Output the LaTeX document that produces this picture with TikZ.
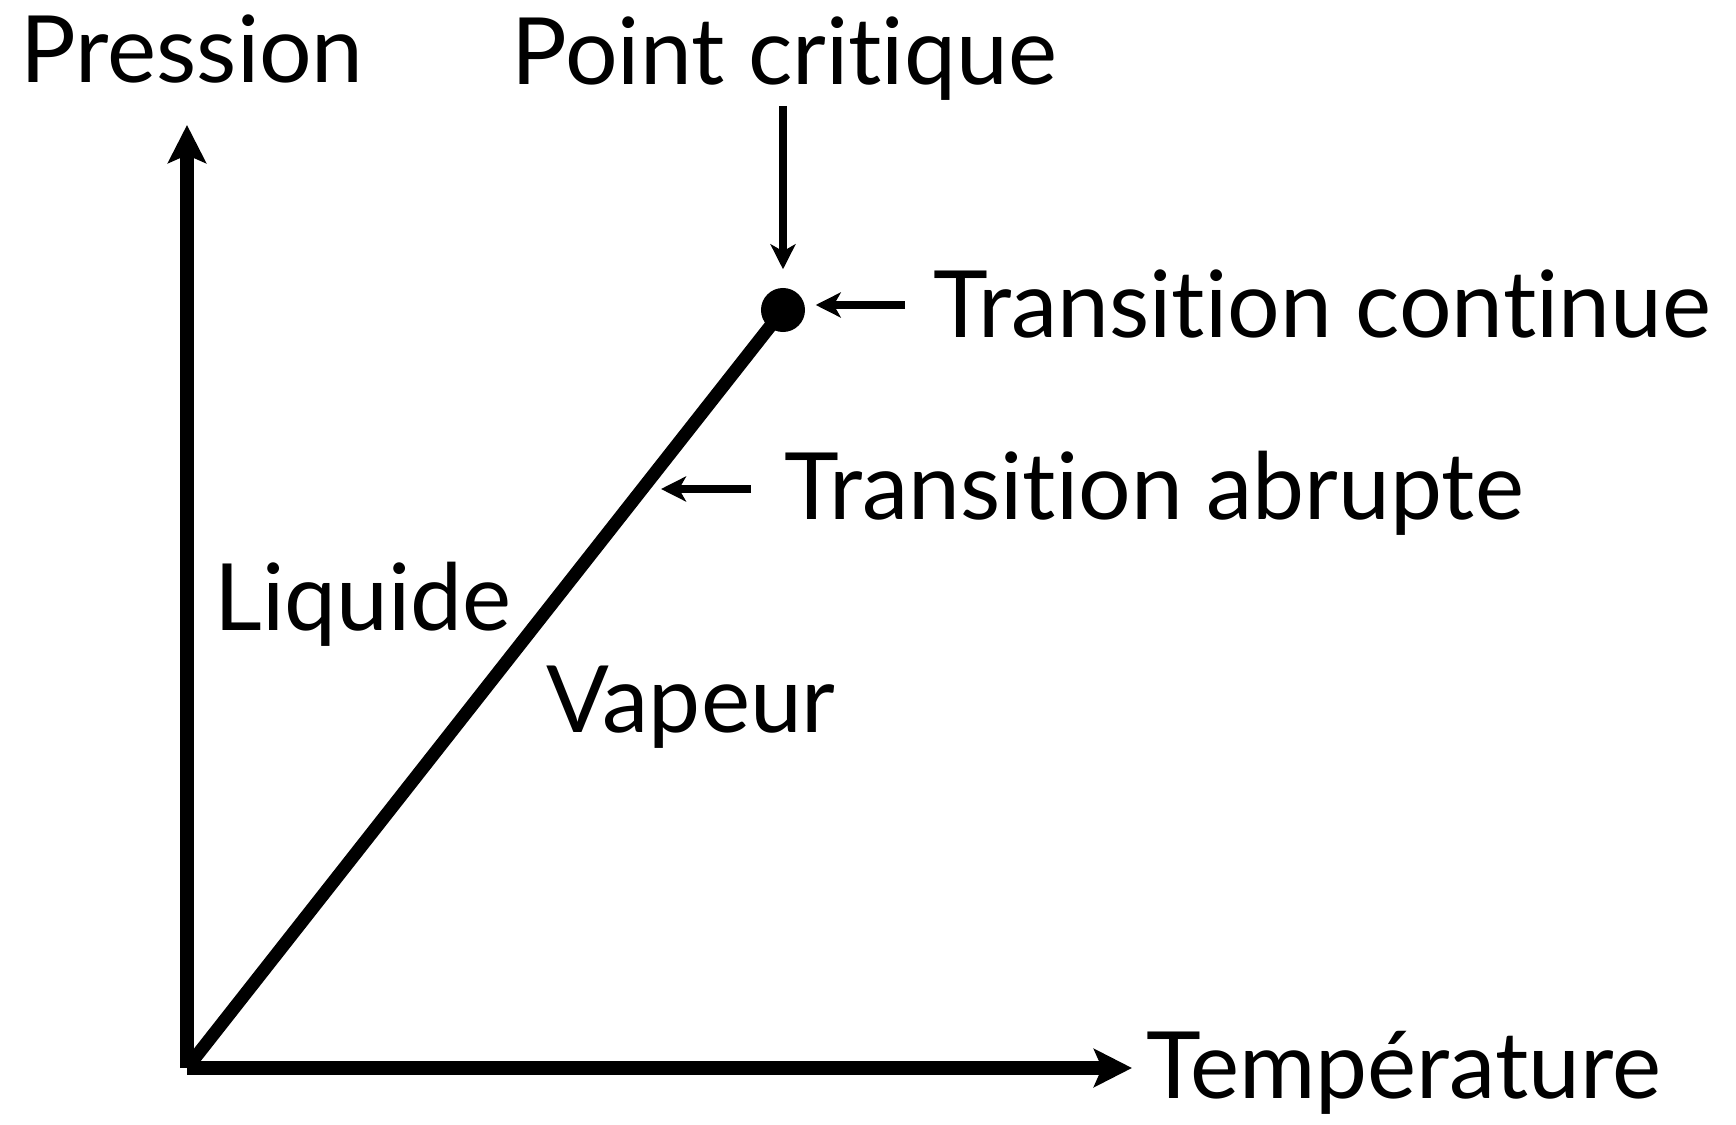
\documentclass[tikz,border=0pt]{standalone}
\usepackage{fontspec}
\setmainfont[Ligatures=NoCommon]{Lato}
\usetikzlibrary{arrows.meta}

\begin{document}
\begin{tikzpicture}[x=0.01cm, y=-0.01cm,
        every node/.style={font=\fontsize{26.4}{32}\selectfont, inner sep=0pt, anchor=base west},
        axis/.style={line width=3.7pt, miter limit=10,
            -{Stealth[length=0.38cm, width=0.38cm, inset=0.08cm]}},
        ptr/.style={line width=2.3pt,
            -{Stealth[length=0.25cm, width=0.25cm, inset=0.07cm]}}]
      \useasboundingbox (0,0) rectangle (1736,1125);
      % axes
      \coordinate (O) at (187,1068);
      \coordinate (ytip) at (187,125);
      \coordinate (xtip) at (1132,1068);
      \draw[axis] (O) -- (ytip);
      \draw[axis] (O) -- (xtip);
      \node (PRES) at (20,83) {Pression};
      \node (TEMP) at (1146,1098) {Température};
      % coexistence line
      \node[circle, fill=black, minimum size=0.44cm, anchor=center] (CRIT) at (783,310) {};
      \draw[line width=3.7pt] (O) -- (CRIT.center);
      \node (LIQ) at (214,631) {Liquide};
      \node (VAP) at (546,733) {Vapeur};
      % labels with pointers
      \node (PC) at (511,85) {Point critique};
      \coordinate (PCtail) at (783,106);
      \draw[ptr, shorten >=0.18cm] (PCtail) -- (CRIT.north);
      \node (TC) at (933,338) {Transition continue};
      \coordinate (TCtail) at (905,305);
      \draw[ptr, shorten >=0.1cm] (TCtail) -- (CRIT.east |- TCtail);
      \node (TA) at (784,520) {Transition abrupte};
      \coordinate (TAtail) at (751,489);
      \coordinate (TAtip) at (661,489);
      \draw[ptr] (TAtail) -- (TAtip);
    \end{tikzpicture}
\end{document}
